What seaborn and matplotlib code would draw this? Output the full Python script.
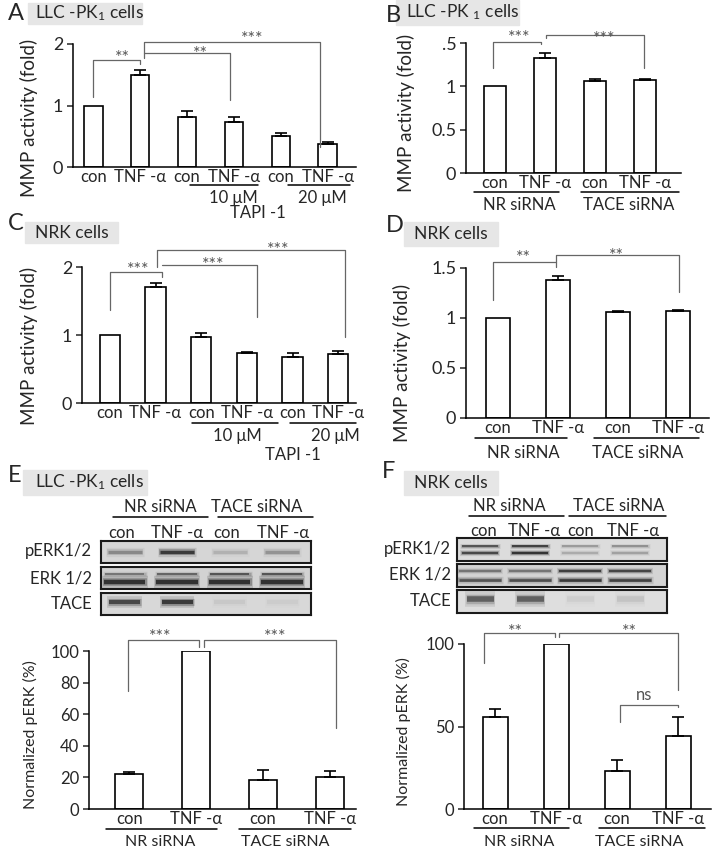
import numpy as np
import pandas as pd
import seaborn as sns
import matplotlib.pyplot as plt
from matplotlib.patches import Rectangle
from matplotlib.lines import Line2D

sns.set_theme(style='white')
plt.rcParams['font.family'] = ['Lato', 'DejaVu Sans']
plt.rcParams['mathtext.fontset'] = 'custom'
plt.rcParams['mathtext.rm'] = 'Lato'
plt.rcParams['mathtext.it'] = 'Lato:italic'

W, H = 712, 852

# lane labels
lanes_tapi = ['con', 'TNF -α', 'con', 'TNF -α', 'con', 'TNF -α']
lanes_sirna = ['con', 'TNF -α', 'con', 'TNF -α']

# MMP activity (fold), mean and upper SE
mmp_llc_tapi = [1.0, 1.50, 0.81, 0.73, 0.51, 0.38]
mmp_llc_tapi_err = [0, 0.08, 0.10, 0.08, 0.05, 0.02]
mmp_llc_sirna = [1.0, 1.33, 1.06, 1.07]
mmp_llc_sirna_err = [0, 0.06, 0.03, 0.01]
mmp_nrk_tapi = [1.0, 1.70, 0.97, 0.73, 0.67, 0.72]
mmp_nrk_tapi_err = [0, 0.06, 0.06, 0.02, 0.07, 0.04]
mmp_nrk_sirna = [1.0, 1.38, 1.06, 1.07]
mmp_nrk_sirna_err = [0, 0.04, 0.01, 0.01]

# normalized pERK (%)
perk_llc = [22, 100, 18.5, 20.5]
perk_llc_err = [1.5, 0, 6.2, 3.5]
perk_nrk = [55.5, 100, 23, 44.5]
perk_nrk_err = [5, 0, 7, 11]

# western blot band darkness per lane (0 = none, 1 = black)
llc_perk_band = [0.35, 0.85, 0.15, 0.3]
llc_erk_upper = [0.45, 0.55, 0.65, 0.65]
llc_erk_lower = [0.9, 0.9, 0.9, 0.9]
llc_tace_band = [0.75, 0.85, 0.06, 0.04]
nrk_perk_upper = [0.7, 0.85, 0.3, 0.35]
nrk_perk_lower = [0.75, 0.9, 0.2, 0.25]
nrk_erk_upper = [0.45, 0.45, 0.8, 0.75]
nrk_erk_lower = [0.65, 0.7, 0.85, 0.8]
nrk_tace_band = [0.6, 0.6, 0.06, 0.1]

STAR = '#555555'

fig = plt.figure(figsize=(7.12, 8.52), dpi=100)


def px_axes(x0, y0, x1, y1):
    return fig.add_axes([x0 / W, 1 - y1 / H, (x1 - x0) / W, (y1 - y0) / H])


def ftext(x, y, s, **kw):
    kw.setdefault('ha', 'center')
    kw.setdefault('va', 'center')
    fig.text(x / W, 1 - y / H, s, **kw)


def fline(x0, x1, y):
    fig.add_artist(Line2D([x0 / W, x1 / W], [1 - y / H] * 2, color='black', lw=1.1))


def title_box(letter, lx, ly, bx0, by0, bx1, by1, label, tx):
    fig.patches.append(Rectangle((bx0 / W, 1 - by1 / H), (bx1 - bx0) / W, (by1 - by0) / H,
                                 transform=fig.transFigure, color='#e6e6e6', zorder=0))
    ftext(lx, ly, letter, fontsize=17, ha='left')
    ftext(tx, (by0 + by1) / 2, label, fontsize=12.5, ha='left')


def bar_panel(box, vals, errs, lanes, xlim, ylim, yticks, yticklabels, width,
              ylabel, ylab_pos, fs_tick, fs_lab):
    ax = px_axes(*box)
    df = pd.DataFrame({'lane': np.arange(len(vals)), 'value': vals})
    sns.barplot(data=df, x='lane', y='value', ax=ax, color='white', saturation=1,
                edgecolor='black', linewidth=1.2, width=width, errorbar=None)
    x = np.arange(len(vals))
    v = np.array(vals, float)
    e = np.array(errs, float)
    m = e > 0
    ax.errorbar(x[m], v[m], yerr=[np.zeros(m.sum()), e[m]], fmt='none', ecolor='black',
                elinewidth=1.2, capsize=4, capthick=1.2)
    ax.set_xlim(xlim)
    ax.set_ylim(ylim)
    ax.set_yticks(yticks)
    ax.set_yticklabels(yticklabels, fontsize=fs_tick)
    ax.set_xticks(x)
    ax.set_xticklabels(lanes, fontsize=12)
    ax.tick_params(axis='x', length=0, pad=1.5)
    ax.tick_params(axis='y', direction='out', length=4, width=1.1, pad=3, left=True)
    ax.set_xlabel('')
    ax.set_ylabel(ylabel, fontsize=fs_lab)
    ax.yaxis.set_label_coords(*ylab_pos)
    sns.despine(ax=ax)
    for s in ['left', 'bottom']:
        ax.spines[s].set_linewidth(1.1)
        ax.spines[s].set_color('black')
    ax.patch.set_alpha(0)
    return ax


def bracket(ax, x0, x1, top, y0, y1, label, lx, off_px, fs=13):
    ax.plot([x0, x0, x1, x1], [y0, top, top, y1], color='#666666', lw=0.9, clip_on=False)
    ax.annotate(label, xy=(lx, top), xytext=(0, off_px * 0.72), textcoords='offset points',
                ha='center', va='baseline', fontsize=fs, color=STAR, annotation_clip=False)


def blot(box, xlim, bands, bg):
    ax = px_axes(*box)
    ax.set_facecolor(bg)
    ax.set_xlim(xlim)
    ax.set_ylim(0, 1)
    for y, lw, half, intens in bands:
        for i, a in enumerate(intens):
            ax.plot([i - half, i + half], [y, y], color='#111111', alpha=a * 0.15,
                    lw=lw * 2.8, solid_capstyle='butt')
            ax.plot([i - half * 0.95, i + half * 0.95], [y, y], color='#111111', alpha=a * 0.3,
                    lw=lw * 1.7, solid_capstyle='butt')
            ax.plot([i - half * 0.9, i + half * 0.9], [y, y], color='#111111', alpha=a * 0.8,
                    lw=lw, solid_capstyle='butt')
    ax.set_xticks([])
    ax.set_yticks([])
    for s in ax.spines.values():
        s.set_visible(True)
        s.set_linewidth(1.5)
        s.set_color('#1a1a1a')
    return ax


# ---------------- A ----------------
title_box('A', 8, 14, 28, 3, 142, 24, 'LLC -PK$_1$ cells', 35)
ax = bar_panel((73, 44, 356, 167), mmp_llc_tapi, mmp_llc_tapi_err, lanes_tapi,
               (-0.43, 5.6), (0, 2), [0, 1, 2], ['0', '1', '2'], 0.4,
               'MMP activity (fold)', (-0.125, 0.4), 13, 13.5)
bracket(ax, 0, 1.0, 1.74, 1.14, 1.67, '**', 0.62, -3.5)
bracket(ax, 1.08, 2.91, 1.85, 1.85, 1.09, '**', 2.28, -5.5)
bracket(ax, 1.08, 4.83, 2.03, 1.77, 0.33, '***', 3.38, -1.5)
fline(190, 258, 185)
fline(288, 350, 185)
ftext(233, 198, '10 μM', fontsize=12)
ftext(322, 198, '20 μM', fontsize=12)
ftext(258, 213, 'TAPI -1', fontsize=12)

# ---------------- B ----------------
title_box('B', 386, 15, 396, 0, 519, 25, 'LLC -PK $_1$ cells', 406)
ax = bar_panel((466, 43, 681, 173), mmp_llc_sirna, mmp_llc_sirna_err, lanes_sirna,
               (-0.58, 3.72), (0, 1.5), [0, 0.5, 1, 1.5], ['0', '0.5', '1', '.5'], 0.44,
               'MMP activity (fold)', (-0.235, 0.46), 13, 13.5)
bracket(ax, -0.04, 0.92, 1.51, 1.21, 1.49, '***', 0.48, -0.5)
bracket(ax, 1.02, 2.98, 1.59, 1.56, 1.21, '***', 2.18, -8.5)
fline(474, 559, 192)
fline(581, 679, 192)
ftext(519, 205, 'NR siRNA', fontsize=12)
ftext(629, 205, 'TACE siRNA', fontsize=12)

# ---------------- C ----------------
title_box('C', 8, 224, 25, 222, 118, 243, 'NRK cells', 35)
ax = bar_panel((82, 267, 356, 403), mmp_nrk_tapi, mmp_nrk_tapi_err, lanes_tapi,
               (-0.61, 5.39), (0, 2), [0, 1, 2], ['0', '1', '2'], 0.44,
               'MMP activity (fold)', (-0.16, 0.42), 13, 13.5)
bracket(ax, 0, 1.14, 1.93, 1.37, 1.85, '***', 0.61, -3.5)
bracket(ax, 1.14, 3.22, 2.03, 2.03, 1.26, '***', 2.26, -5.5)
bracket(ax, 1.03, 5.15, 2.25, 2.0, 0.97, '***', 3.68, -5.5)
fline(192, 278, 423)
fline(290, 356, 423)
ftext(237, 436, '10 μM', fontsize=12)
ftext(335, 436, '20 μM', fontsize=12)
ftext(293, 455, 'TAPI -1', fontsize=12)

# ---------------- D ----------------
title_box('D', 386, 225, 404, 222, 498, 246, 'NRK cells', 414)
ax = bar_panel((466, 268, 709, 418), mmp_nrk_sirna, mmp_nrk_sirna_err, lanes_sirna,
               (-0.53, 3.52), (0, 1.5), [0, 0.5, 1, 1.5], ['0', '0.5', '1', '1.5'], 0.4,
               'MMP activity (fold)', (-0.225, 0.37), 13, 13.5)
bracket(ax, -0.08, 0.97, 1.56, 1.18, 1.51, '**', 0.43, -1.5)
bracket(ax, 0.97, 3.02, 1.63, 1.56, 1.26, '**', 1.97, -5.5)
fline(475, 567, 438)
fline(594, 699, 438)
ftext(523, 453, 'NR siRNA', fontsize=12)
ftext(638, 453, 'TACE siRNA', fontsize=12)

# ---------------- E ----------------
title_box('E', 8, 475, 23, 470, 147, 495, 'LLC -PK$_1$ cells', 35)
ftext(160, 507, 'NR siRNA', fontsize=12)
ftext(257, 507, 'TACE siRNA', fontsize=12)
fline(113, 208, 517)
fline(218, 313, 517)
for xl, s in zip([122, 177, 227, 283], lanes_sirna):
    ftext(xl, 533, s, fontsize=12)
blot((101, 541, 311, 563), (-0.45, 3.55), [(0.5, 2.4, 0.36, llc_perk_band)], '#d6d6d6')
blot((101, 567, 311, 589), (-0.45, 3.55),
     [(0.68, 1.4, 0.42, llc_erk_upper), (0.3, 3.2, 0.44, llc_erk_lower)], '#d2d2d2')
blot((101, 593, 311, 615), (-0.45, 3.55), [(0.6, 3.0, 0.33, llc_tace_band)], '#d8d8d8')
ftext(92, 551, 'pERK1/2', fontsize=12, ha='right')
ftext(92, 578, 'ERK 1/2', fontsize=12, ha='right')
ftext(92, 604, 'TACE', fontsize=12, ha='right')
ax = bar_panel((89, 651, 356, 809), perk_llc, perk_llc_err, lanes_sirna,
               (-0.6, 3.39), (0, 100), [0, 20, 40, 60, 80, 100],
               ['0', '20', '40', '60', '80', '100'], 0.42,
               'Normalized pERK (%)', (-0.19, 0.47), 12, 11.5)
bracket(ax, -0.01, 1.04, 107, 75, 102.5, '***', 0.46, -2.5)
bracket(ax, 1.12, 3.09, 107, 102.5, 51, '***', 2.18, -2.5)
fline(106, 217, 829)
fline(239, 351, 829)
ftext(160, 842, 'NR siRNA', fontsize=11.5)
ftext(285, 842, 'TACE siRNA', fontsize=11.5)

# ---------------- F ----------------
title_box('F', 382, 472, 404, 471, 498, 495, 'NRK cells', 414)
ftext(509, 506, 'NR siRNA', fontsize=12)
ftext(619, 506, 'TACE siRNA', fontsize=12)
fline(469, 564, 516)
fline(569, 666, 516)
for xl, s in zip([484, 534, 581, 633], lanes_sirna):
    ftext(xl, 531, s, fontsize=12)
blot((457, 538, 667, 561), (-0.46, 3.74),
     [(0.66, 1.3, 0.4, nrk_perk_upper), (0.34, 1.6, 0.4, nrk_perk_lower)], '#dcdcdc')
blot((457, 564, 667, 587), (-0.46, 3.74),
     [(0.68, 1.6, 0.46, nrk_erk_upper), (0.32, 1.9, 0.46, nrk_erk_lower)], '#d4d4d4')
blot((457, 590, 667, 613), (-0.46, 3.74), [(0.6, 4.0, 0.3, nrk_tace_band)], '#dedede')
ftext(451, 549, 'pERK1/2', fontsize=12, ha='right')
ftext(451, 575, 'ERK 1/2', fontsize=12, ha='right')
ftext(451, 601, 'TACE', fontsize=12, ha='right')
ax = bar_panel((464, 644, 711, 809), perk_nrk, perk_nrk_err, lanes_sirna,
               (-0.51, 3.54), (0, 100), [0, 50, 100], ['0', '50', '100'], 0.41,
               'Normalized pERK (%)', (-0.215, 0.47), 12, 11.5)
bracket(ax, -0.18, 0.98, 106.7, 88.5, 104, '**', 0.34, -4.5)
bracket(ax, 1.05, 3.0, 106.7, 104, 72, '**', 2.2, -4.5)
bracket(ax, 2.05, 3.0, 63, 52.7, 62, 'ns', 2.44, 5.5, fs=12)
fline(474, 569, 828)
fline(599, 705, 828)
ftext(519, 842, 'NR siRNA', fontsize=11.5)
ftext(639, 842, 'TACE siRNA', fontsize=11.5)

fig.savefig('out.png', dpi=100, facecolor='white')
